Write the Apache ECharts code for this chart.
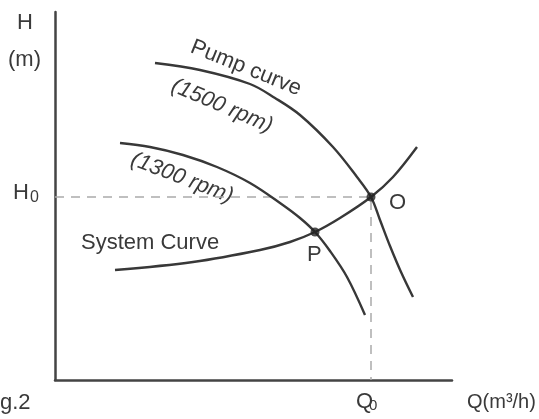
<!DOCTYPE html>
<html><head><meta charset="utf-8">
<script src="https://cdn.jsdelivr.net/npm/echarts@6/dist/echarts.min.js"></script>
<style>html,body{margin:0;padding:0;background:#fff}#c{width:539px;height:419px}</style>
</head><body><div id="c"></div>
<script>
// Q (flow) vs H (head), arbitrary units
const pump1500 = [[100,317],[145,310],[195,296],[220,282],[245,265],[278,233],[302,203],[316,183],[325,160],[335,134],[346,108],[358,83]];
const pump1300 = [[65,237],[95,233],[128,225],[162,213],[195,197],[225,177],[245,162],[260,148],[275,129],[292,103],[310,65]];
const systemCurve = [[60,110],[138,118],[205,130],[235,138],[260,148],[285,162],[316,183],[338,203],[362,233]];
const opPointO = [316,183];
const opPointP = [260,148];
const labels = {O:'O', P:'P'};

const chart = echarts.init(document.getElementById('c'));
const font = 'Liberation Sans, Arial, sans-serif';
const lineStyle = {color:'#383838', width:2.4};
const txt = (x,y,text,opt={}) => ({type:'text', x, y, rotation:opt.rot||0,
  style:{text, fill:'#3a3a3a', font:(opt.italic?'italic ':'')+(opt.size||22)+'px '+font,
  textAlign:opt.align||'left', textVerticalAlign:opt.va||'top'}});
const deg = d => -d*Math.PI/180;

chart.setOption({
  animation:false,
  grid:{left:55, right:87, top:12, bottom:39},
  xAxis:{type:'value', min:0, max:397, axisLine:{lineStyle:{color:'#444', width:2.5}}, axisTick:{show:false}, axisLabel:{show:false}, splitLine:{show:false}},
  yAxis:{type:'value', min:0, max:368, axisLine:{show:true, lineStyle:{color:'#444', width:2.5}}, axisTick:{show:false}, axisLabel:{show:false}, splitLine:{show:false}},
  series:[
    {type:'line', data:[[0,opPointO[1]],opPointO,[opPointO[0],0]], symbol:'none', lineStyle:{color:'#aaa', width:1.5, type:[9,7]}, z:1},
    {type:'line', data:pump1500, smooth:0.35, symbol:'none', lineStyle},
    {type:'line', data:pump1300, smooth:0.35, symbol:'none', lineStyle},
    {type:'line', data:systemCurve, smooth:0.35, symbol:'none', lineStyle},
    {type:'scatter', data:[opPointO, opPointP], symbolSize:9, itemStyle:{color:'#222'}, z:5}
  ],
  graphic:[
    txt(17,12,'H'),
    txt(8,49,'(m)'),
    txt(13,182,'H'),
    txt(30,190,'0',{size:16}),
    txt(356,391,'Q'),
    txt(369,398,'0',{size:15}),
    txt(467,392,'Q(m³/h)',{size:20}),
    txt(0,392,'g.2'),
    txt(389,192,labels.O),
    txt(307,244,labels.P),
    txt(81,232,'System Curve'),
    txt(246,68,'Pump curve',{align:'center',va:'middle',rot:deg(22)}),
    txt(222,106,'(1500 rpm)',{align:'center',va:'middle',rot:deg(23),italic:true}),
    txt(182,178,'(1300 rpm)',{align:'center',va:'middle',rot:deg(21),italic:true})
  ]
});
</script></body></html>
